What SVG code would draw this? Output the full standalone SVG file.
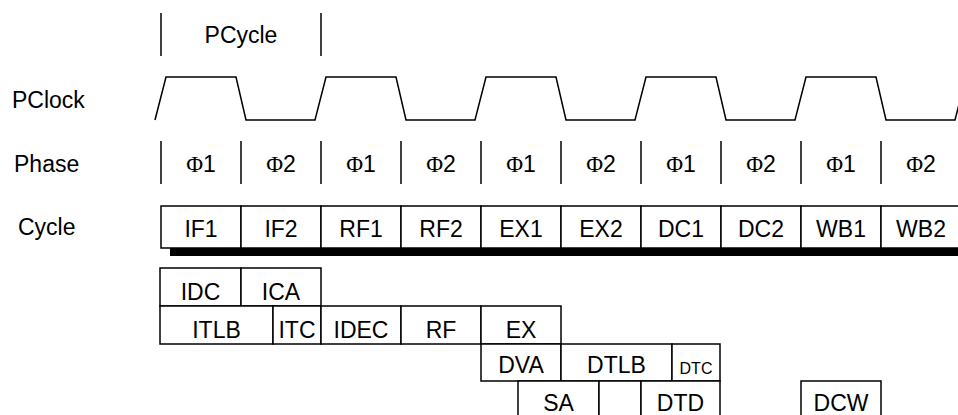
<svg xmlns="http://www.w3.org/2000/svg" width="958" height="415" viewBox="0 0 958 415">
<style>
text{font-family:"Liberation Sans",Arial,sans-serif;font-size:23px;fill:#000;text-anchor:middle}
.lbl{text-anchor:start}
.phi{font-family:"Liberation Serif","Times New Roman",serif}
.sm{font-size:16px}
.ln{stroke:#000;stroke-width:1.5;fill:none}
.bx{stroke:#000;stroke-width:1.5;fill:#fff}
</style>
<rect width="958" height="415" fill="#fff"/>
<g id="labels">
<text class="lbl" x="12" y="108">PClock</text>
<text class="lbl" x="14" y="172">Phase</text>
<text class="lbl" x="18" y="235">Cycle</text>
</g>
<g id="pcycle">
<line class="ln" x1="161" y1="13" x2="161" y2="56"/>
<line class="ln" x1="321" y1="13" x2="321" y2="56"/>
<text x="241" y="43">PCycle</text>
</g>
<g id="pclock">
<polyline class="ln" points="155,120 166,77 236,77 246,120 315,120 326,77 396,77 406,120 475,120 486,77 556,77 566,120 635,120 646,77 716,77 726,120 795,120 806,77 876,77 886,120 955,120 966,77"/>
</g>
<g id="phase">
<g class="ln">
<line x1="161" y1="141" x2="161" y2="184"/>
<line x1="241" y1="141" x2="241" y2="184"/>
<line x1="321" y1="141" x2="321" y2="184"/>
<line x1="401" y1="141" x2="401" y2="184"/>
<line x1="481" y1="141" x2="481" y2="184"/>
<line x1="561" y1="141" x2="561" y2="184"/>
<line x1="641" y1="141" x2="641" y2="184"/>
<line x1="721" y1="141" x2="721" y2="184"/>
<line x1="801" y1="141" x2="801" y2="184"/>
<line x1="881" y1="141" x2="881" y2="184"/>
</g>
<text x="201" y="172"><tspan class="phi">Φ</tspan>1</text>
<text x="281" y="172"><tspan class="phi">Φ</tspan>2</text>
<text x="361" y="172"><tspan class="phi">Φ</tspan>1</text>
<text x="441" y="172"><tspan class="phi">Φ</tspan>2</text>
<text x="521" y="172"><tspan class="phi">Φ</tspan>1</text>
<text x="601" y="172"><tspan class="phi">Φ</tspan>2</text>
<text x="681" y="172"><tspan class="phi">Φ</tspan>1</text>
<text x="761" y="172"><tspan class="phi">Φ</tspan>2</text>
<text x="841" y="172"><tspan class="phi">Φ</tspan>1</text>
<text x="921" y="172"><tspan class="phi">Φ</tspan>2</text>
</g>
<g id="cycle">
<rect x="170" y="248" width="800" height="8" fill="#000"/>
<rect class="bx" x="161" y="206" width="80" height="42"/>
<rect class="bx" x="241" y="206" width="80" height="42"/>
<rect class="bx" x="321" y="206" width="80" height="42"/>
<rect class="bx" x="401" y="206" width="80" height="42"/>
<rect class="bx" x="481" y="206" width="80" height="42"/>
<rect class="bx" x="561" y="206" width="80" height="42"/>
<rect class="bx" x="641" y="206" width="80" height="42"/>
<rect class="bx" x="721" y="206" width="80" height="42"/>
<rect class="bx" x="801" y="206" width="80" height="42"/>
<rect class="bx" x="881" y="206" width="90" height="42"/>
<text x="201" y="237">IF1</text>
<text x="281" y="237">IF2</text>
<text x="361" y="237">RF1</text>
<text x="441" y="237">RF2</text>
<text x="521" y="237">EX1</text>
<text x="601" y="237">EX2</text>
<text x="681" y="237">DC1</text>
<text x="761" y="237">DC2</text>
<text x="841" y="237">WB1</text>
<text x="921" y="237">WB2</text>
</g>
<g id="IDC"><rect class="bx" x="160" y="268" width="81" height="38"/><text x="200.5" y="300">IDC</text></g>
<g id="ICA"><rect class="bx" x="241" y="268" width="80" height="38"/><text x="281" y="300">ICA</text></g>
<g id="ITLB"><rect class="bx" x="160" y="306" width="113" height="38"/><text x="216.5" y="338">ITLB</text></g>
<g id="ITC"><rect class="bx" x="273" y="306" width="48" height="38"/><text x="297" y="338">ITC</text></g>
<g id="IDEC"><rect class="bx" x="321" y="306" width="80" height="38"/><text x="361" y="338">IDEC</text></g>
<g id="RF"><rect class="bx" x="401" y="306" width="80" height="38"/><text x="441" y="338">RF</text></g>
<g id="EX"><rect class="bx" x="481" y="306" width="80" height="38"/><text x="521" y="338">EX</text></g>
<g id="DVA"><rect class="bx" x="481" y="344" width="80" height="37"/><text x="521" y="373">DVA</text></g>
<g id="DTLB"><rect class="bx" x="561" y="344" width="111" height="37"/><text x="616.5" y="373">DTLB</text></g>
<g id="DTC"><rect class="bx" x="672" y="344" width="48" height="37"/><text class="sm" x="696" y="374">DTC</text></g>
<g id="SA"><rect class="bx" x="518" y="381" width="81" height="40"/><text x="558.5" y="411">SA</text></g>
<g id="gap"><rect class="bx" x="599" y="381" width="42" height="40"/></g>
<g id="DTD"><rect class="bx" x="641" y="381" width="79" height="40"/><text x="680.5" y="411">DTD</text></g>
<g id="DCW"><rect class="bx" x="801" y="381" width="80" height="40"/><text x="841" y="411">DCW</text></g>
</svg>
